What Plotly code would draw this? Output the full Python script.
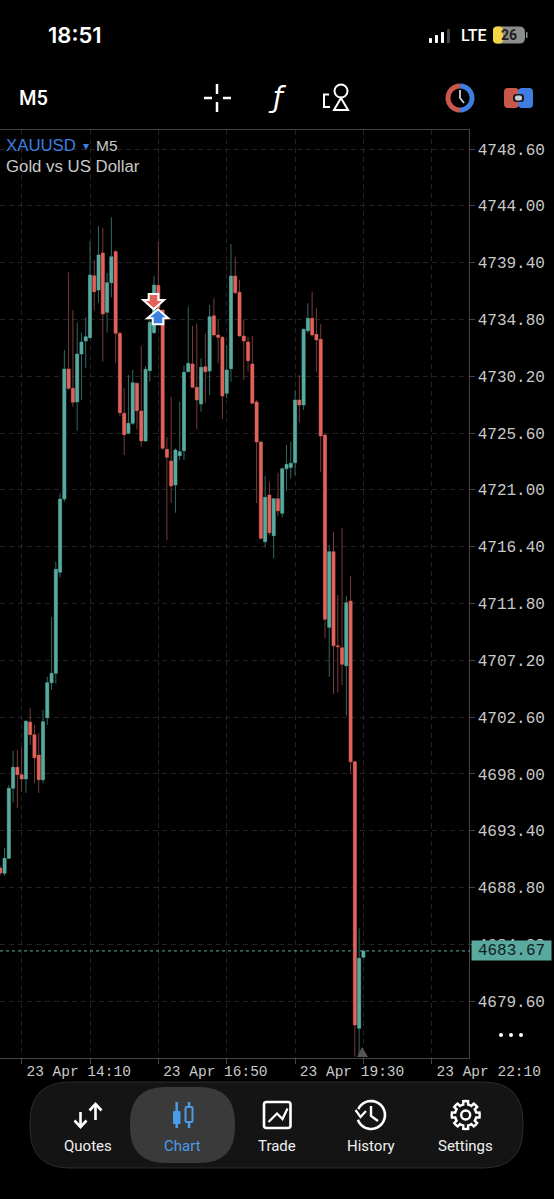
import math
import pandas as pd
import plotly.graph_objects as go

W = 554
H = 1199

times = pd.date_range("2026-04-23 13:45", periods=86, freq="5min")

opens = [4690.38,4689.95,4691.17,4696.84,4698.54,4697.94,4697.59,4702.20,4701.18,4699.53,
         4697.53,4702.55,4705.39,4706.15,4714.33,4720.26,4730.79,4729.22,4728.12,4732.00,
         4733.05,4733.32,4738.34,4737.18,4740.18,4735.38,4737.78,4740.29,4733.68,4727.20,
         4725.58,4726.39,4729.63,4727.39,4724.96,4730.65,4733.73,4737.56,4735.56,4724.29,
         4723.34,4721.39,4723.77,4724.17,4730.57,4731.19,4729.31,4727.95,4730.97,4730.62,
         4735.10,4733.54,4733.35,4728.82,4730.81,4738.32,4737.00,4733.46,4732.97,4731.19,
         4728.12,4724.88,4716.80,4720.58,4717.29,4720.28,4719.10,4722.71,4722.82,4723.20,
         4728.28,4727.87,4733.89,4734.89,4733.60,4733.19,4725.44,4709.87,4716.00,4708.38,
         4708.22,4706.76,4712.00,4698.99,4677.40,4683.15]
highs = [4690.55,4692.00,4697.10,4699.88,4699.94,4700.20,4702.37,4703.31,4701.96,4701.31,
         4703.18,4705.87,4710.71,4715.19,4720.72,4732.33,4738.62,4735.56,4734.54,4733.73,
         4734.97,4741.10,4739.61,4742.37,4742.23,4738.58,4743.07,4740.42,4733.81,4729.22,
         4730.30,4730.71,4729.68,4732.65,4731.03,4734.75,4738.32,4741.10,4735.56,4725.30,
         4728.54,4724.37,4728.14,4731.11,4735.83,4734.27,4734.49,4731.65,4733.68,4735.97,
         4736.51,4734.75,4733.46,4732.73,4740.91,4739.88,4738.00,4734.75,4733.40,4733.46,
         4728.28,4724.98,4722.12,4721.66,4720.34,4722.39,4722.82,4724.63,4724.90,4729.09,
         4730.30,4734.08,4736.11,4737.05,4735.70,4734.43,4725.60,4716.53,4717.61,4712.49,
         4717.94,4712.41,4714.03,4699.05,4685.50,4683.67]
lows = [4689.82,4689.74,4691.11,4695.67,4695.24,4696.56,4696.46,4700.34,4697.27,4696.46,
        4697.27,4701.96,4704.80,4705.34,4713.92,4720.04,4729.09,4727.73,4725.79,4728.28,
        4730.84,4733.27,4735.51,4736.16,4731.38,4733.73,4736.59,4731.30,4726.98,4723.82,
        4725.52,4726.25,4725.90,4724.50,4724.90,4729.76,4733.62,4735.56,4724.23,4716.94,
        4719.94,4719.15,4723.42,4723.42,4730.55,4729.22,4725.90,4727.33,4728.06,4728.68,
        4733.40,4731.25,4726.74,4728.41,4729.76,4736.86,4733.40,4729.90,4730.57,4727.95,
        4719.92,4716.94,4716.35,4717.34,4715.46,4718.88,4718.78,4720.93,4721.93,4722.20,
        4726.44,4727.47,4733.68,4733.40,4730.57,4722.47,4708.98,4705.87,4704.47,4704.58,
        4705.20,4702.71,4697.99,4675.10,4675.10,4683.15]
closes = [4689.98,4691.17,4696.84,4698.54,4697.94,4697.59,4702.26,4701.18,4699.31,4697.53,
          4702.23,4705.39,4706.15,4714.57,4720.26,4730.79,4729.22,4728.09,4732.00,4732.97,
          4733.40,4738.40,4737.05,4740.02,4735.24,4737.78,4739.88,4733.68,4727.25,4725.47,
          4726.39,4729.68,4727.41,4724.96,4730.76,4734.57,4737.59,4735.73,4724.37,4723.64,
          4721.31,4724.23,4724.09,4730.52,4731.25,4729.31,4728.28,4730.92,4730.57,4735.02,
          4733.54,4733.35,4728.60,4730.71,4738.32,4736.97,4733.46,4733.05,4731.46,4728.01,
          4724.88,4717.08,4720.40,4717.53,4720.28,4719.31,4722.71,4723.07,4723.15,4728.28,
          4727.87,4734.00,4734.89,4733.54,4733.14,4725.36,4710.52,4716.00,4708.38,4708.30,
          4706.88,4711.86,4698.99,4677.67,4683.07,4683.67]

price_ticks = [4748.60,4744.00,4739.40,4734.80,4730.20,4725.60,4721.00,4716.40,
               4711.80,4707.20,4702.60,4698.00,4693.40,4688.80,4684.20,4679.60]
time_ticks = ["2026-04-23 14:10","2026-04-23 15:30","2026-04-23 16:50","2026-04-23 18:10",
              "2026-04-23 19:30","2026-04-23 20:50","2026-04-23 22:10"]
time_labels = ["23 Apr 14:10","","23 Apr 16:50","","23 Apr 19:30","","23 Apr 22:10"]

GREEN = "#5aa99e"
RED = "#e4615a"
DIM_GREEN = "#2f6a64"
DIM_RED = "#7a3b37"
BLUE = "#3b7fe0"
GREY = "#c9c9c9"
MONO = "Liberation Mono"
SANS = "Liberation Sans"


def px(x):
    return x / W


def py(y):
    return 1 - y / H


def poly(points, close=False):
    s = "M " + " L ".join(f"{px(x):.5f},{py(y):.5f}" for x, y in points)
    return s + " Z" if close else s


def rrect(x0, y0, x1, y1, r):
    p = lambda x, y: f"{px(x):.5f},{py(y):.5f}"
    return (f"M {p(x0+r,y0)} L {p(x1-r,y0)} Q {p(x1,y0)} {p(x1,y0+r)} L {p(x1,y1-r)} Q {p(x1,y1)} {p(x1-r,y1)} "
            f"L {p(x0+r,y1)} Q {p(x0,y1)} {p(x0,y1-r)} L {p(x0,y0+r)} Q {p(x0,y0)} {p(x0+r,y0)} Z")


def arc(cx, cy, r, a0, a1, n=30):
    # angles in degrees, clockwise from 12 o'clock
    pts = []
    for k in range(n + 1):
        a = math.radians(a0 + (a1 - a0) * k / n)
        pts.append((cx + r * math.sin(a), cy - r * math.cos(a)))
    return pts


shapes = []


def path(d, fill="rgba(0,0,0,0)", color="rgba(0,0,0,0)", width=0):
    shapes.append(dict(type="path", xref="paper", yref="paper", path=d, fillcolor=fill,
                       line=dict(color=color, width=width)))


def circle(cx, cy, r, fill="rgba(0,0,0,0)", color="white", width=2):
    shapes.append(dict(type="circle", xref="paper", yref="paper", x0=px(cx - r), x1=px(cx + r),
                       y0=py(cy + r), y1=py(cy - r), fillcolor=fill, line=dict(color=color, width=width)))


# last price line
shapes.append(dict(type="line", xref="paper", yref="y", x0=0, x1=px(470), y0=closes[-1], y1=closes[-1],
                   line=dict(color=GREEN, width=1, dash="3px,3px")))

# deal arrows
path(poly([(148.7,294),(158.3,294),(158.3,300),(164,300),(153.7,309.3),(143.3,300),(148.7,300)], True),
     RED, "white", 2)
path(poly([(158,309.3),(168.3,318.3),(163.3,318.3),(163.3,324.3),(152.7,324.3),(152.7,318.3),(147.3,318.3)], True),
     BLUE, "white", 2)
# small triangle under the last bars
path(poly([(362,1047),(368,1057),(357,1057)], True), "#565656")

# status bar
for bx, bh, col in [(431,5,"white"),(437,8,"white"),(443,11,"white"),(449,14,"#444444")]:
    path(rrect(bx-2, 43-bh, bx+1, 43, 0.8), col)
path(rrect(493,26.5,525,43.5,5.5), "#8d8d8d")
path(rrect(493,26.5,503,43.5,4), "#f4d548")
path(rrect(526,32,527.5,38,0.6), "#8d8d8d")

# toolbar icons
for seg in [[(204,98),(212,98)],[(223,98),(231,98)],[(217,84),(217,94)],[(217,102),(217,112)]]:
    path(poly(seg), color="white", width=2.5)
circle(341, 91, 6.5, width=2)
path(poly([(341,98),(348,110),(334,110)], True), color="white", width=2)
path(poly([(329,94.5),(324,94.5),(324,107),(330,107)]), color="white", width=2)
path(poly(arc(460,98,12,180,360)), color="#c9574b", width=5)
path(poly(arc(460,98,12,0,180)), color="#3f7de0", width=5)
path(poly([(460,90),(460,98),(464,103)]), color="#c9d2dc", width=1.8)
path(rrect(504,88,519,108,4), "#c9574b")
path(rrect(518,88,533,108,4), "#3f7de0")
path(rrect(513,94,524,102,3), "#1a1a1a")
path(rrect(515,95.5,522,100.5,2), "#c4ccd6")

# bottom navigation
path(rrect(30,1082,523,1168,40), "#141414", "#2c2c2c", 1)
path(rrect(130,1087,235,1163,36), "#3a3a3a")
for seg in [[(80.5,1112),(80.5,1127)],[(74.5,1120.5),(80.5,1127),(86.5,1120.5)],
            [(95.5,1104),(95.5,1120)],[(89.5,1110.5),(95.5,1104),(101.5,1110.5)]]:
    path(poly(seg), color="white", width=2.6)
CHART_BLUE = "#4a9be8"
path(poly([(176.7,1102),(176.7,1128)]), color=CHART_BLUE, width=2.5)
path(rrect(173,1111,180.5,1124,1), CHART_BLUE)
path(poly([(189,1102),(189,1107)]), color=CHART_BLUE, width=2.5)
path(poly([(189,1122),(189,1128)]), color=CHART_BLUE, width=2.5)
path(rrect(185.5,1107,192.5,1122,1), "#3a3a3a", CHART_BLUE, 2)
path(rrect(264,1102,290.5,1128,2.5), color="white", width=2.6)
path(poly([(268.5,1122),(277,1113.5),(282.5,1119),(287.5,1108.5)]), color="white", width=2.2)
path(poly(arc(371,1115,14,-65,250)), color="white", width=2.6)
path(poly([(355.5,1110),(360.5,1117),(366,1111)]), color="white", width=2.2)
path(poly([(371,1106),(371,1116),(378,1121)]), color="white", width=2.4)
gear = []
for k in range(8):
    a = 45 * k
    gear += arc(465.7,1115,10.7,a-22.5,a-13,2) + arc(465.7,1115,14,a-10,a+10,2) + arc(465.7,1115,10.7,a+13,a+22.5,2)
path(poly(gear, True), color="white", width=2.4)
circle(465.7, 1115, 4.5, width=2.4)

annotations = []


def label(x, y, text, size, color="white", anchor="center", family=SANS, weight=None):
    annotations.append(dict(xref="paper", yref="paper", x=px(x), y=py(y), text=text, showarrow=False,
                            xanchor=anchor, yanchor="middle",
                            font=dict(size=size, color=color, family=family, weight=weight)))


label(74.5, 35, "18:51", 22, family="Inter", weight=600)
label(473.5, 36, "LTE", 16, family="Roboto", weight=500)
label(509, 35.5, "26", 14, "#222222", family="Roboto", weight=700)
label(33, 98, "M5", 20, family="Roboto", weight=500)
label(277, 98, "<i>ƒ</i>", 28, family="DejaVu Sans")
label(4, 145, "XAUUSD", 16.8, BLUE, "left")
label(86, 146, "▾", 12, BLUE)
label(94, 145, "M5", 15.5, GREY, "left")
label(4, 166, "Gold vs US Dollar", 16.8, GREY, "left")
for x, name, col in [(87.5,"Quotes","#f0f0f0"),(182,"Chart",CHART_BLUE),(277,"Trade","#f0f0f0"),
                     (371,"History","#f0f0f0"),(465.5,"Settings","#f0f0f0")]:
    label(x, 1146, name, 15, col, family="Roboto")
for x in [501, 511, 521]:
    circle(x, 1035, 2, fill="white", color="white", width=0)
annotations.append(dict(xref="paper", yref="y", x=px(511), y=closes[-1], text=f"{closes[-1]:.2f}", showarrow=False,
                        xanchor="center", bgcolor=GREEN, width=77, height=17,
                        font=dict(size=16, color="#10201e", family=MONO)))

fig = go.Figure()
# wicks, dimmer than the bodies
fig.add_trace(go.Candlestick(x=times, open=opens, high=highs, low=lows, close=closes,
                             increasing=dict(line=dict(color=DIM_GREEN, width=1), fillcolor=GREEN),
                             decreasing=dict(line=dict(color=DIM_RED, width=1), fillcolor=RED),
                             showlegend=False))
# bodies
body_high = [max(o, c) for o, c in zip(opens, closes)]
body_low = [min(o, c) for o, c in zip(opens, closes)]
fig.add_trace(go.Candlestick(x=times, open=opens, high=body_high, low=body_low, close=closes,
                             increasing=dict(line=dict(color=GREEN, width=0), fillcolor=GREEN),
                             decreasing=dict(line=dict(color=RED, width=0), fillcolor=RED),
                             showlegend=False))

fig.update_layout(width=W, height=H, margin=dict(l=0, r=0, t=0, b=0), autosize=False,
                  paper_bgcolor="black", plot_bgcolor="black", showlegend=False,
                  boxgap=0.15, boxgroupgap=0.15, shapes=shapes, annotations=annotations)
fig.update_xaxes(domain=[0, px(468.5)], range=["2026-04-23 13:44:40", "2026-04-23 22:53"],
                 rangeslider_visible=False, tickmode="array", tickvals=time_ticks, ticktext=time_labels,
                 ticks="outside", ticklen=5, tickcolor="#444444", ticklabelshift=57, ticklabelstandoff=-5,
                 tickfont=dict(size=14.5, color=GREY, family=MONO), automargin=False,
                 showgrid=True, gridcolor="#232323", griddash="5px,4px", gridwidth=1,
                 showline=True, linecolor="#444444", linewidth=1, mirror=True, zeroline=False)
fig.update_yaxes(domain=[py(1058), py(130)], range=[4675.0, 4750.14], side="right",
                 tickmode="array", tickvals=price_ticks, ticktext=[f"{v:.2f}" for v in price_ticks],
                 ticks="outside", ticklen=5, tickcolor="#444444", automargin=False,
                 tickfont=dict(size=16, color=GREY, family=MONO),
                 showgrid=True, gridcolor="#232323", griddash="5px,4px", gridwidth=1,
                 showline=True, linecolor="#444444", linewidth=1, zeroline=False)

fig.write_html("out.html", config={"displayModeBar": False},
               post_script="document.body.style.margin='0';document.body.style.background='#000';")
